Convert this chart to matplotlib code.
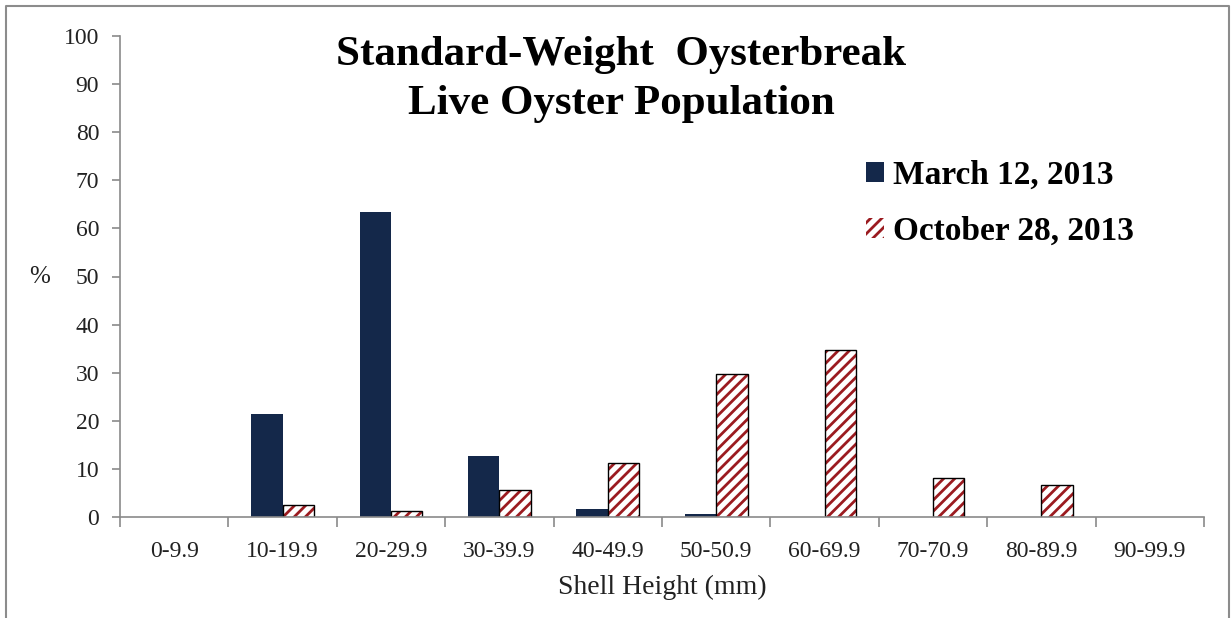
import numpy as np
import matplotlib
matplotlib.use('Agg')
import matplotlib.pyplot as plt
from matplotlib.patches import Patch
from matplotlib.lines import Line2D

plt.rcParams.update({
    'font.family': ['Liberation Serif', 'DejaVu Serif'],
    'hatch.linewidth': 2.0,
})

# data
categories = ['0-9.9', '10-19.9', '20-29.9', '30-39.9', '40-49.9',
              '50-50.9', '60-69.9', '70-70.9', '80-89.9', '90-99.9']
march = [0, 21.5, 63.4, 12.6, 1.6, 0.6, 0, 0, 0, 0]
october = [0, 2.5, 1.2, 5.6, 11.3, 29.7, 34.7, 8.1, 6.7, 0]
yticks = np.arange(0, 101, 10)

navy = '#14284a'
red = '#9b1b20'
axis_gray = '#8a8a8a'

fig = plt.figure(figsize=(12.32, 6.18), dpi=100)
ax = fig.add_axes([120/1232, 101/618, 1084/1232, 481/618])

x = np.arange(len(categories))
w = 0.29
ax.bar(x - w/2, march, w, color=navy, edgecolor='none')
# hatched bars: red stripes on white, then black outline on top
ax.bar(x + w/2, october, w, color='white', edgecolor=red, hatch='///', linewidth=0)
ax.bar(x + w/2, [v if v > 0 else np.nan for v in october], w, fill=False,
       edgecolor='black', linewidth=1.0)

ax.set_xlim(-0.5, len(categories) - 0.5)
ax.set_ylim(0, 100)
ax.set_yticks(yticks)
ax.set_xticks(x)
ax.set_xticklabels(categories)
ax.set_xticks(np.arange(-0.5, len(categories), 1), minor=True)
ax.tick_params(axis='x', which='major', length=0, pad=17, labelsize=17, labelcolor='#222222')
ax.tick_params(axis='x', which='minor', length=7, color=axis_gray, width=1.2, direction='out')
ax.tick_params(axis='y', length=6, color=axis_gray, width=1.2, pad=9,
               labelsize=17, labelcolor='#222222')

for s in ['top', 'right']:
    ax.spines[s].set_visible(False)
for s in ['left', 'bottom']:
    ax.spines[s].set_color(axis_gray)
    ax.spines[s].set_linewidth(1.2)

ax.set_xlabel('Shell Height (mm)', fontsize=20, color='#222222')
ax.xaxis.set_label_coords(0.5, -70/481)
ax.xaxis.label.set_va('center')
fig.text(40/1232, 1 - 277/618, '%', fontsize=18, ha='center', va='center', color='#222222')

fig.text(621/1232, 1 - 55/618, 'Standard-Weight  Oysterbreak', fontsize=31,
         fontweight='bold', ha='center', va='center')
fig.text(621/1232, 1 - 104/618, 'Live Oyster Population', fontsize=31,
         fontweight='bold', ha='center', va='center')

handles = [Patch(facecolor=navy, edgecolor='none'),
           Patch(facecolor='white', edgecolor=red, hatch='///', linewidth=0)]
ax.legend(handles, ['March 12, 2013', 'October 28, 2013'], loc='upper left',
          bbox_to_anchor=(836/1232, 1 - 130/618), bbox_transform=fig.transFigure,
          frameon=False, prop={'weight': 'bold', 'size': 24},
          handlelength=0.55, handleheight=0.55, handletextpad=0.25, labelspacing=0.75)

# outer chart border
fig.add_artist(Line2D([6/1232, 6/1232, 1229/1232, 1229/1232], [0, 1 - 6/618, 1 - 6/618, 0],
                      transform=fig.transFigure, color='#8c8c8c', linewidth=1.5))

fig.savefig('out.png', dpi=100)
